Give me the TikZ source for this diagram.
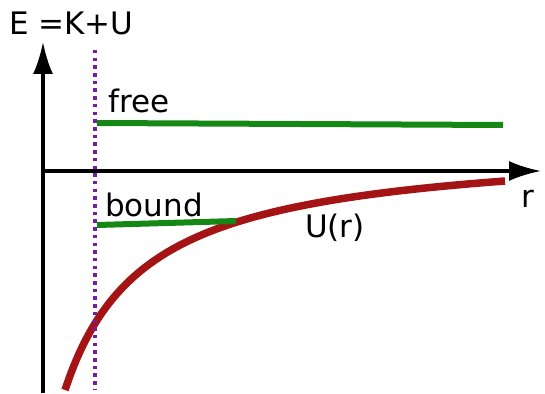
\documentclass[tikz,border=0pt]{standalone}
\usepackage{fontspec}
\setmainfont{DejaVu Sans}
\usetikzlibrary{arrows.meta}

\definecolor{curvered}{RGB}{165,20,20}
\definecolor{levelgreen}{RGB}{20,135,20}
\definecolor{cutpurple}{RGB}{115,30,160}

\begin{document}
\begin{tikzpicture}[x=1pt,y=-1pt,
    lbl/.style={inner sep=0pt,anchor=base west,font=\fontsize{31}{37}\selectfont},
    axis/.style={line width=3.2pt,-{Latex[length=32pt,width=20pt]}},
    level/.style={line width=6pt,levelgreen}]
    \useasboundingbox (0,0) rectangle (545,393);
    % axes
    \coordinate (o) at (43,171);
    \coordinate (ytop) at (43,42);
    \coordinate (ybot) at (43,393);
    \coordinate (xend) at (541,171);
    \draw[axis] (ybot) -- (ytop);
    \draw[axis] (o) -- (xend);
    \node[lbl] (elab) at (9,35) {E =K+U};
    \node[lbl] (rlab) at (521,207) {r};
    % potential curve
    \draw[curvered,line width=7.5pt,domain=65:505,samples=80,smooth,variable=\t]
      plot ({\t},{142.2+100*(202.45/(\t+16.7))});
    \node[lbl] (ulab) at (305,237) {U(r)};
    % energy levels
    \coordinate (free0) at (97,123);
    \coordinate (free1) at (503,125);
    \coordinate (bound0) at (97,225);
    \coordinate (bound1) at (236,221);
    \draw[level] (free0) -- (free1);
    \draw[level] (bound0) -- (bound1);
    \node[lbl] (freelab) at (108,112) {free};
    \node[lbl] (boundlab) at (105,216) {bound};
    % turning point
    \coordinate (cut0) at (95,50);
    \coordinate (cut1) at (95,390);
    \draw[cutpurple,line width=3.5pt,dash pattern=on 3.5pt off 4.2pt] (cut0) -- (cut1);
\end{tikzpicture}
\end{document}
